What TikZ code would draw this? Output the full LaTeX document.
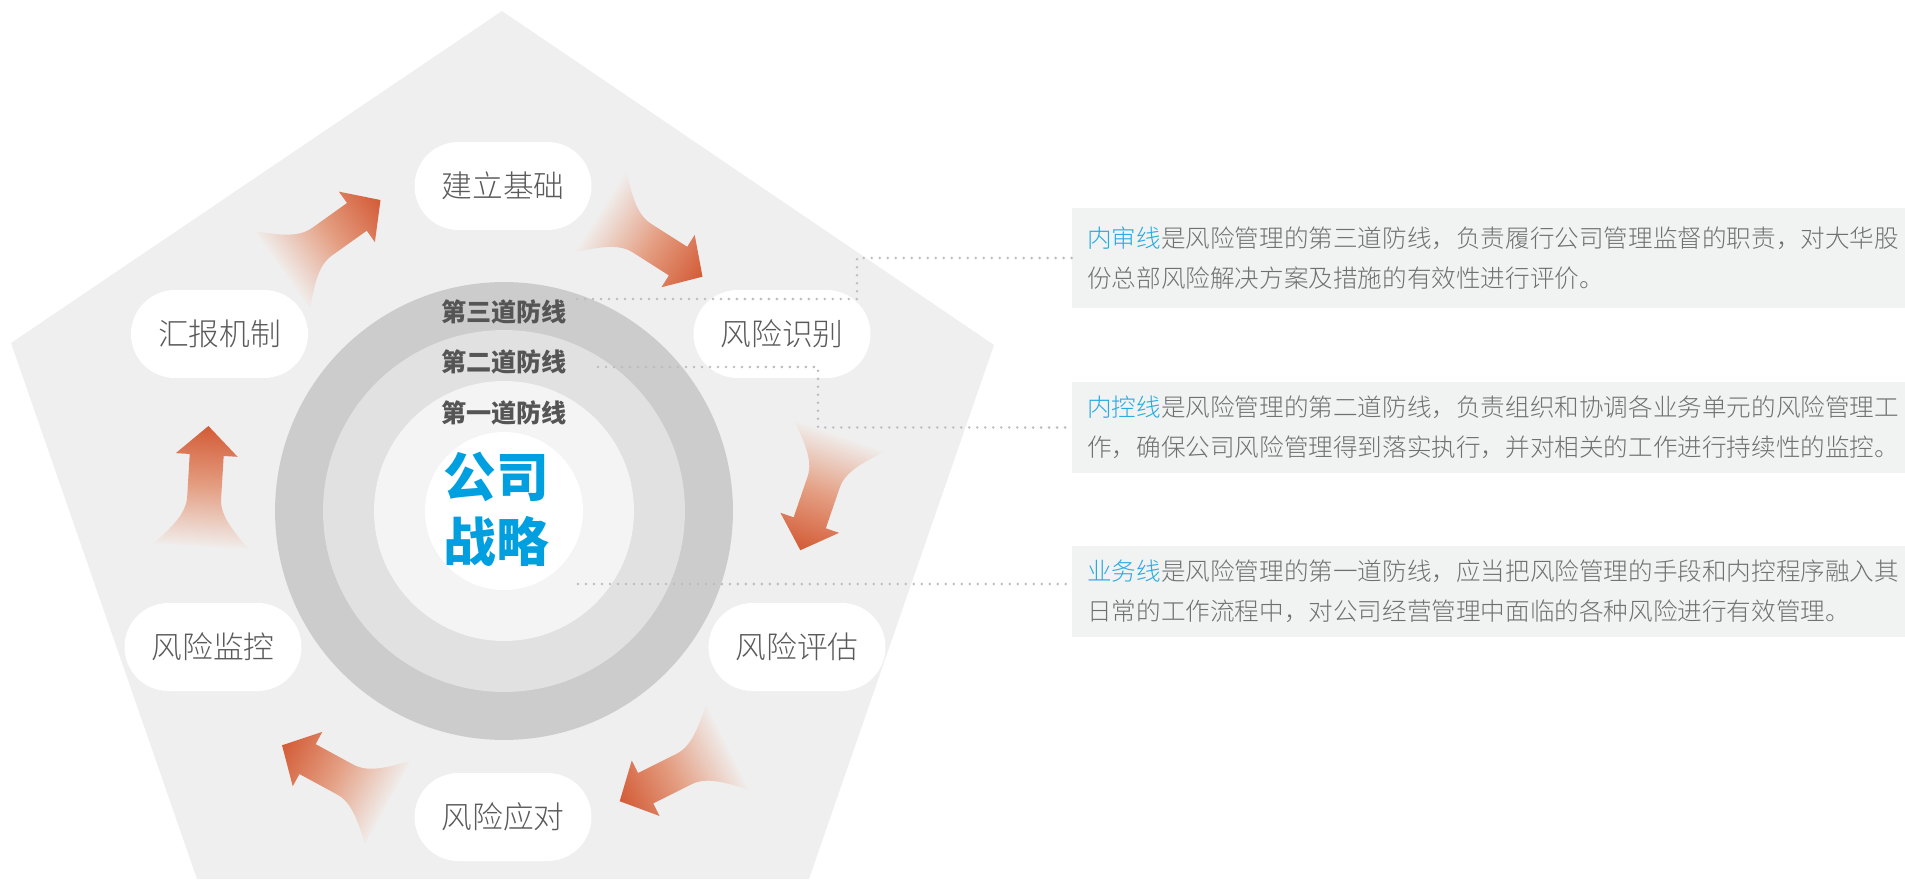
\documentclass[tikz,border=0pt]{standalone}
\usepackage{fontspec}
\setmainfont{Noto Sans CJK SC}
\newfontfamily\lightcjk{Noto Sans CJK SC Light}
\newfontfamily\heavycjk{Noto Sans CJK SC Black}
\usetikzlibrary{positioning}

\definecolor{pentafill}{HTML}{EFEFEF}
\definecolor{ringouter}{HTML}{CCCCCC}
\definecolor{ringmid}{HTML}{E1E1E1}
\definecolor{ringinner}{HTML}{F4F4F4}
\definecolor{boxfill}{HTML}{F1F2F2}
\definecolor{bodytext}{HTML}{707070}
\definecolor{pillgray}{HTML}{5A5A5A}
\definecolor{ringtext}{HTML}{555555}
\definecolor{keyblue}{HTML}{29ABE2}
\definecolor{corpblue}{HTML}{00A0E0}
\definecolor{arrhead}{HTML}{D35B36}
\definecolor{arrmid}{HTML}{E49E82}
\definecolor{arrtail}{HTML}{F0ECEA}
\definecolor{dotgray}{HTML}{BDBDBD}

\tikzset{
  pill/.style={fill=white, rounded corners=0.88cm, minimum width=3.54cm,
    minimum height=1.76cm, inner sep=0pt, text=pillgray,
    font=\lightcjk\fontsize{17.5}{21}\selectfont},
  ringlabel/.style={text=ringtext, font=\fontsize{14.3}{17}\selectfont\bfseries},
  infobox/.style={fill=boxfill, anchor=west, text width=16.4cm, inner xsep=0.3cm,
    align=left, text=bodytext, font=\lightcjk\fontsize{14}{22.8}\selectfont},
  dotline/.style={draw=dotgray, line width=1.6pt, line cap=round,
    dash pattern=on 0pt off 4.55pt},
  swoosh/.style={left color=arrtail, right color=arrhead, middle color=arrmid}
}

\begin{document}
\begin{tikzpicture}[x=0.02cm, y=-0.02cm]
    \useasboundingbox (0,0) rectangle (1905,879);
    % pentagon background
    \fill[pentafill] (502,11) -- (994,345) -- (809,879) -- (197,879) -- (11,343) -- cycle;

    % rings
    \node[circle, fill=ringouter, minimum size=9.16cm] (ring3) at (504,511) {};
    \node[circle, fill=ringmid, minimum size=7.24cm] (ring2) at (504,511) {};
    \node[circle, fill=ringinner, minimum size=5.2cm] (ring1) at (504,511) {};
    \node[circle, fill=white, minimum size=3.16cm] (core) at (504,511) {};

    \draw (504,311.7) node[ringlabel] (line3) {第三道防线};
    \draw (504,361.7) node[ringlabel] (line2) {第二道防线};
    \draw (504,413) node[ringlabel] (line1) {第一道防线};
    \draw (496,509) node[text=corpblue, align=center,
        font=\heavycjk\fontsize{30}{37}\selectfont] (strategy) {公司\\战略};

    % cycle steps
    \node[pill] (base) at (503,186) {建立基础};
    \node[pill] (ident) at (782,334) {风险识别};
    \node[pill] (assess) at (797,647) {风险评估};
    \node[pill] (respond) at (503,817) {风险应对};
    \node[pill] (monitor) at (213,647) {风险监控};
    \node[pill] (report) at (219.5,334) {汇报机制};

    % fading arrows: tail centre / direction
    \foreach \tx/\ty/\ang in {282.8/269.7/35.5, 601.3/212.2/-32.5, 839.2/436.7/-108.9,
                              727/747.5/-153.4, 387.5/802.5/151.5, 201.3/545.8/86.6} {
      \begin{scope}[transform canvas={shift={(\tx,\ty)}, rotate=\ang}]
        \shade[swoosh] (0,47) .. controls (15,33) and (30,17) .. (48,17) -- (91,17)
          -- (91,31) -- (120,0) -- (91,-31) -- (91,-17) -- (48,-17)
          .. controls (30,-17) and (15,-33) .. (0,-47) -- cycle;
      \end{scope}
    }

    % notes
    \node[infobox, minimum height=2cm] (box1) at (1072,258)
      {{\color{keyblue}内审线}是风险管理的第三道防线，负责履行公司管理监督的职责，对大华股\\份总部风险解决方案及措施的有效性进行评价。};
    \node[infobox, minimum height=1.82cm] (box2) at (1072,427.5)
      {{\color{keyblue}内控线}是风险管理的第二道防线，负责组织和协调各业务单元的风险管理工\\作，确保公司风险管理得到落实执行，并对相关的工作进行持续性的监控。};
    \node[infobox, minimum height=1.82cm] (box3) at (1072,591.5)
      {{\color{keyblue}业务线}是风险管理的第一道防线，应当把风险管理的手段和内控程序融入其\\日常的工作流程中，对公司经营管理中面临的各种风险进行有效管理。};

    \coordinate (d3) at (577,299);
    \coordinate (d2) at (598,367);
    \coordinate (d1) at (578,584);
    \draw[dotline] (d3) -- ++(280,0) |- (box1.west);
    \draw[dotline] (d2) -- ++(220,0) |- (box2.west);
    \draw[dotline] (d1) -- (d1 -| box3.west);
\end{tikzpicture}
\end{document}
